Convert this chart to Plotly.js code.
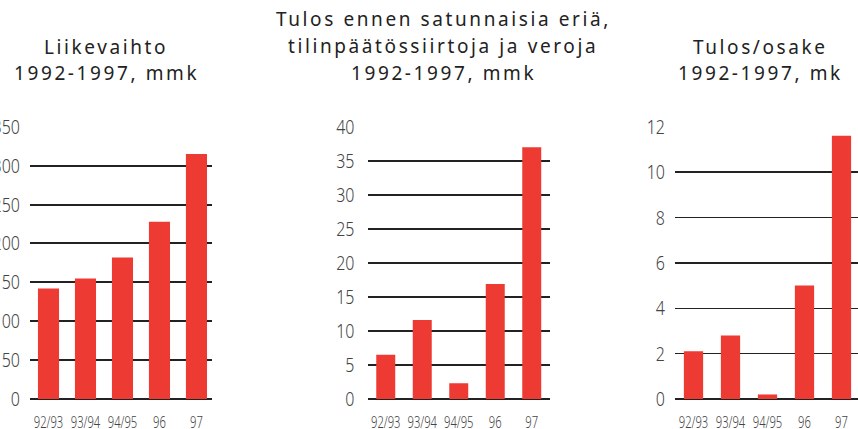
<!DOCTYPE html>
<html>
<head>
<meta charset="utf-8">
<script src="https://cdn.plot.ly/plotly-3.0.1.min.js"></script>
<style>
html,body{margin:0;padding:0;background:#fff;}
.annotation-text{letter-spacing:2.6px;}
</style>
</head>
<body>
<div id="chart" style="width:858px;height:429px;"></div>
<script>
// ---- data ----
const categories = ['92/93', '93/94', '94/95', '96', '97'];
const liikevaihto = [142, 155, 182, 228, 315];          // mmk
const tulosEnnen = [6.5, 11.6, 2.3, 16.9, 37.0];         // mmk
const tulosOsake = [2.1, 2.8, 0.2, 5.0, 11.6];           // mk
const title1 = ['Liikevaihto', '1992-1997, mmk'];
const title2 = ['Tulos ennen satunnaisia eriä,', 'tilinpäätössiirtoja ja veroja', '1992-1997, mmk'];
const title3 = ['Tulos/osake', '1992-1997, mk'];
const yTicks1 = [0, 50, 100, 150, 200, 250, 300, 350];
const yTicks2 = [0, 5, 10, 15, 20, 25, 30, 35, 40];
const yTicks3 = [0, 2, 4, 6, 8, 10, 12];

const W = 858, H = 429;
const RED = '#ed3b33';
const TICKFONT = '"Noto Sans", "Open Sans", sans-serif';
const px = v => v / W;
const py = v => 1 - v / H;

function bar(y, xa, ya, w) {
  return {type: 'bar', x: categories, y: y, xaxis: xa, yaxis: ya,
          marker: {color: RED, line: {width: 0}}, width: w, hoverinfo: 'skip'};
}
const data = [
  bar(liikevaihto, 'x', 'y', 0.57),
  bar(tulosEnnen, 'x2', 'y2', 0.52),
  bar(tulosOsake, 'x3', 'y3', 0.52)
];

function xax(yanchor, d0, d1, rng) {
  return {domain: [px(d0), px(d1)], range: rng, type: 'category', anchor: yanchor,
          showgrid: false, zeroline: false, showline: false, tickangle: 0,
          ticks: 'outside', ticklen: 8, tickcolor: 'rgba(0,0,0,0)',
          tickfont: {family: TICKFONT, size: 16.5, color: '#444', weight: 300}, fixedrange: true};
}
function yax(xanchor, rng, vals, gw, tl) {
  return {domain: [py(399), py(126.8)], range: rng, anchor: xanchor,
          tickmode: 'array', tickvals: vals, ticktext: vals.map(String),
          showgrid: true, gridcolor: '#222', gridwidth: gw,
          zeroline: true, zerolinecolor: '#222', zerolinewidth: gw + 0.5,
          showline: false, ticks: 'outside', ticklen: tl, tickcolor: 'rgba(0,0,0,0)',
          tickfont: {family: TICKFONT, size: 20, color: '#444', weight: 300}, fixedrange: true};
}

const annotations = [];
function addTitle(lines, cx, ys) {
  lines.forEach((t, i) => {
    annotations.push({text: t, xref: 'paper', yref: 'paper', x: px(cx), y: py(ys[i]),
      xanchor: 'center', yanchor: 'middle', showarrow: false,
      font: {family: '"Noto Sans", "Open Sans", sans-serif', size: 19, color: '#222'}});
  });
}
addTitle(title1, 106, [47, 73]);
addTitle(title2, 443, [19, 46, 73]);
addTitle(title3, 760, [47, 73]);

const layout = {
  width: W, height: H, margin: {l: 0, r: 0, t: 0, b: 0},
  paper_bgcolor: '#fff', plot_bgcolor: 'rgba(0,0,0,0)', showlegend: false,
  xaxis: xax('y', 30, 212, [-0.5, 4.42]),
  yaxis: yax('x', [0, 350], yTicks1, 2, 5),
  xaxis2: xax('y2', 367.5, 550, [-0.5, 4.5]),
  yaxis2: yax('x2', [0, 40], yTicks2, 2, 8),
  xaxis3: xax('y3', 675, 858, [-0.5, 4.446]),
  yaxis3: yax('x3', [0, 12], yTicks3, 1.5, 5),
  annotations: annotations
};

// condense the tick label glyphs to mimic the narrow typeface of the original
function condense(sel, f) {
  document.querySelectorAll(sel).forEach(t => {
    const len = t.getComputedTextLength();
    if (len > 0) {
      t.setAttribute('textLength', (len * f).toFixed(2));
      t.setAttribute('lengthAdjust', 'spacingAndGlyphs');
    }
  });
}
Plotly.newPlot('chart', data, layout, {staticPlot: true, displayModeBar: false}).then(() => {
  condense('.ytick text, .y2tick text, .y3tick text', 0.8);
  condense('.xtick text, .x2tick text, .x3tick text', 0.68);
});
</script>
</body>
</html>
